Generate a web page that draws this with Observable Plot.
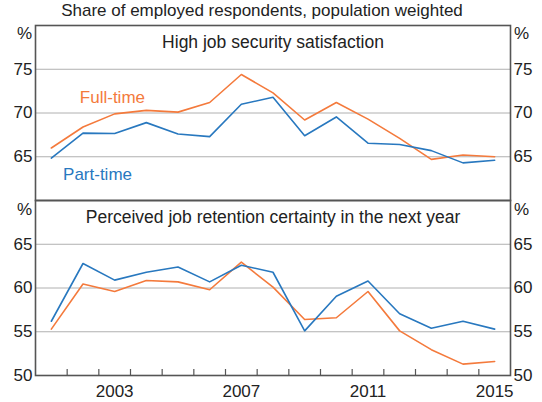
<!DOCTYPE html>
<html>
<head>
<meta charset="utf-8">
<script src="https://cdn.jsdelivr.net/npm/d3@7"></script>
<script src="https://cdn.jsdelivr.net/npm/@observablehq/plot@0.6"></script>
<style>
  html, body { margin: 0; padding: 0; background: #fff; }
  body { width: 542px; height: 402px; overflow: hidden; font-family: "Liberation Sans", Arial, sans-serif; color: #222; }
  #title { height: 20px; line-height: 20px; font-size: 17px; text-align: center; padding-right: 18px; position: relative; top: 1px; white-space: nowrap; }
  svg { display: block; }
</style>
</head>
<body>
<div id="title">Share of employed respondents, population weighted</div>
<div id="chart"></div>
<script>
// Data
const years = [2001, 2002, 2003, 2004, 2005, 2006, 2007, 2008, 2009, 2010, 2011, 2012, 2013, 2014, 2015];
const securityFullTime = [66.0, 68.4, 69.9, 70.3, 70.1, 71.2, 74.4, 72.3, 69.2, 71.2, 69.3, 67.1, 64.7, 65.2, 65.0];
const securityPartTime = [64.85, 67.7, 67.65, 68.9, 67.6, 67.3, 71.0, 71.8, 67.4, 69.55, 66.55, 66.4, 65.7, 64.3, 64.6];
const retentionFullTime = [55.3, 60.45, 59.6, 60.85, 60.7, 59.8, 62.95, 60.1, 56.4, 56.6, 59.6, 55.1, 52.95, 51.3, 51.6];
const retentionPartTime = [56.2, 62.8, 60.9, 61.8, 62.4, 60.7, 62.6, 61.8, 55.1, 59.05, 60.8, 57.05, 55.4, 56.2, 55.3];
const topTicks = [65, 70, 75];
const bottomTicks = [50, 55, 60, 65];
const xTickLabels = [2003, 2007, 2011, 2015];
const panelTitles = ["High job security satisfaction", "Perceived job retention certainty in the next year"];
const seriesNames = ["Full-time", "Part-time"];
const seriesLabelYear = [2002.4, 2001.87];
const seriesLabelValue = [71.2, 62.4];

const ORANGE = "#f47a3c";
const BLUE = "#2878bf";
const TEXT = "#222";
const FONT = "Liberation Sans, Arial, sans-serif";

const toRows = (vals) => years.map((y, i) => ({year: y, value: vals[i]}));
const labelRows = seriesNames.map((n, i) => ({name: n, year: seriesLabelYear[i], value: seriesLabelValue[i]}));

function panel({height, marginTop, marginBottom, domain, ticks, title, full, part, withXAxis, labels, pctDy}) {
  const marks = [
    Plot.gridY(ticks.filter(t => t > domain[0] && t < domain[1]), {stroke: "#b0b0b0", strokeOpacity: 1, strokeWidth: 1}),
    Plot.axisY(ticks, {anchor: "left", tickSize: 0, tickPadding: 3, fontSize: 17, fill: TEXT, label: null}),
    Plot.axisY(ticks, {anchor: "right", tickSize: 0, tickPadding: 3, fontSize: 17, fill: TEXT, label: null}),
    Plot.text(["%"], {frameAnchor: "top-left", dx: -11, dy: pctDy, lineAnchor: "middle", textAnchor: "middle", fontSize: 17, fill: TEXT}),
    Plot.text(["%"], {frameAnchor: "top-right", dx: 11, dy: pctDy, lineAnchor: "middle", textAnchor: "middle", fontSize: 17, fill: TEXT}),
    Plot.text([title], {frameAnchor: "top", dy: 22, lineAnchor: "bottom", textAnchor: "middle", fontSize: 17.5, fill: TEXT}),
    Plot.lineY(full, {x: d => d.year + 0.5, y: "value", stroke: ORANGE, strokeWidth: 1.6}),
    Plot.lineY(part, {x: d => d.year + 0.5, y: "value", stroke: BLUE, strokeWidth: 1.6}),
  ];
  if (labels) {
    marks.push(Plot.text(labels, {x: "year", y: "value", text: "name", textAnchor: "start", lineAnchor: "bottom", fontSize: 17, fill: (d) => d.name === "Full-time" ? ORANGE : BLUE}));
  }
  if (withXAxis) {
    marks.push(Plot.axisX(years.slice(1), {anchor: "bottom", tickSize: -6, tickFormat: () => "", stroke: "#555", strokeWidth: 1.2, label: null}));
    marks.push(Plot.text(xTickLabels, {x: d => d + 0.5, text: d => String(d), frameAnchor: "bottom", dy: 21, lineAnchor: "bottom", textAnchor: "middle", fontSize: 17, fill: TEXT}));
  }
  marks.push(Plot.frame({stroke: "#555", strokeWidth: 1.6}));
  return Plot.plot({
    width: 542,
    height,
    marginLeft: 35,
    marginRight: 32,
    marginTop,
    marginBottom,
    style: {fontFamily: FONT, background: "white", overflow: "visible"},
    x: {domain: [2001, 2016], axis: null},
    y: {domain, axis: null},
    marks
  });
}

const topPanel = panel({height: 180, marginTop: 5, marginBottom: 0, domain: [60, 80], ticks: topTicks, title: panelTitles[0],
  full: toRows(securityFullTime), part: toRows(securityPartTime), withXAxis: false, labels: labelRows, pctDy: 8});
const bottomPanel = panel({height: 202, marginTop: 0, marginBottom: 27, domain: [50, 70], ticks: bottomTicks, title: panelTitles[1],
  full: toRows(retentionFullTime), part: toRows(retentionPartTime), withXAxis: true, labels: null, pctDy: 9});
document.getElementById("chart").append(topPanel, bottomPanel);
</script>
</body>
</html>
